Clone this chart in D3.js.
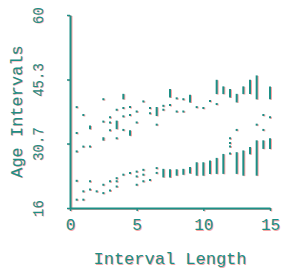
<!doctype html>
<html lang="en">
<head>
  <meta charset="utf-8">
  <title>Age Intervals</title>
  <style>
  body { margin: 0; background: #fff; }
  svg { display: block; }
  text { font-family: "Liberation Mono", "DejaVu Sans Mono", monospace; }
  </style>
</head>
<body>
  <div id="chart"></div>
  <script src="https://cdn.jsdelivr.net/npm/d3@7"></script>
  <script>
    // x positions, low and high age of each interval mark
    var upperMarks = [
      [0.5, 39.0, 39.0], [0.5, 33.1, 33.1], [0.5, 28.9, 28.9],
      [1, 37.2, 37.2], [1, 30.0, 30.0],
      [1.5, 34.2, 34.6], [1.5, 30.0, 30.0],
      [2.5, 40.8, 40.8], [2.5, 35.7, 35.7], [2.5, 31.6, 31.9],
      [3, 36.7, 36.7], [3, 35.5, 35.5], [3, 33.7, 33.7],
      [3.5, 38.4, 38.4], [3.5, 34.2, 35.7], [3.5, 31.9, 31.9],
      [4, 41.0, 41.8], [4, 38.8, 38.8], [4, 36.9, 36.9], [4, 33.8, 33.8],
      [4.5, 39.0, 39.0], [4.5, 37.2, 37.2], [4.5, 32.7, 33.5],
      [5, 38.0, 38.0], [5, 35.5, 35.5],
      [5.5, 40.3, 40.3],
      [6, 38.8, 38.8], [6, 37.6, 37.6],
      [6.5, 37.2, 38.8], [6.5, 35.0, 35.0],
      [7, 39.3, 39.3], [7, 38.4, 38.4],
      [7.5, 41.4, 42.9], [7.5, 39.5, 39.5],
      [8, 41.0, 41.0], [8, 38.0, 38.0],
      [8.5, 40.8, 40.8], [8.5, 38.0, 38.0],
      [9, 40.3, 41.6],
      [9.5, 39.0, 39.0],
      [10, 38.8, 38.8],
      [10.5, 40.4, 40.4],
      [11, 42.2, 45.0], [11, 39.7, 39.7],
      [11.5, 42.2, 43.5],
      [12, 41.4, 42.9], [12, 31.9, 31.9], [12, 30.8, 30.8], [12, 30.0, 30.0],
      [12.5, 40.3, 41.8], [12.5, 33.8, 33.8],
      [13, 42.2, 43.5],
      [13.5, 42.2, 45.0],
      [14, 41.0, 46.0], [14, 35.0, 35.0],
      [14.5, 37.2, 37.2], [14.5, 33.8, 33.8],
      [15, 41.0, 43.5], [15, 36.7, 36.7]
    ];
    var lowerMarks = [
      [0.5, 22.2, 22.2], [0.5, 17.9, 17.9],
      [1, 19.8, 19.8], [1, 17.9, 17.9],
      [1.5, 22.1, 22.1], [1.5, 20.2, 20.2],
      [2, 19.8, 19.8],
      [2.5, 21.3, 21.3], [2.5, 19.4, 19.4],
      [3, 22.1, 22.1], [3, 20.0, 20.0],
      [3.5, 22.8, 22.8], [3.5, 22.1, 22.1], [3.5, 20.9, 20.9],
      [4, 23.6, 23.6],
      [4.5, 24.0, 24.0],
      [5, 24.3, 24.3], [5, 23.2, 23.2], [5, 21.3, 21.3],
      [5.5, 24.7, 24.7], [5.5, 23.6, 23.6], [5.5, 22.1, 22.1],
      [6, 22.4, 22.4],
      [6.5, 25.1, 25.1], [6.5, 24.0, 24.0],
      [7, 23.2, 24.7],
      [7.5, 23.2, 24.6],
      [8, 23.6, 24.6],
      [8.5, 23.8, 24.7],
      [9, 24.1, 25.1],
      [9.5, 23.6, 26.2],
      [10, 23.6, 26.2],
      [10.5, 24.0, 26.6],
      [11, 24.0, 27.2],
      [11.5, 24.0, 28.1],
      [12, 28.4, 28.4],
      [12.5, 24.0, 28.5],
      [13, 23.6, 28.9],
      [13.5, 28.5, 29.7],
      [14, 23.6, 31.2],
      [14.5, 29.7, 31.2],
      [15, 29.7, 31.7]
    ];
    var xTicks = [0, 5, 10, 15];
    var yTicks = [16, 30.7, 45.3, 60];
    var yTickLabels = ["16", "30.7", "45.3", "60"];

    var width = 282, height = 272;

    var x = d3.scaleLinear().domain([0, 15]).range([70, 270]);
    var y = d3.scaleLinear().domain([16, 60]).range([208, 15]);

    var svg = d3.select("#chart").append("svg")
        .attr("width", width)
        .attr("height", height);

    // draw everything twice: a pale red copy shifted right, then the teal one
    var drawLayer = function(color, dx, dy) {
      var g = svg.append("g").attr("transform", "translate(" + dx + "," + dy + ")");

      var xAxis = g.append("g")
          .attr("transform", "translate(0," + y(16) + ")")
          .call(d3.axisBottom(x).tickValues(xTicks).tickSize(3).tickSizeOuter(0).tickPadding(8));
      var yAxis = g.append("g")
          .attr("transform", "translate(" + x(0) + ",0)")
          .call(d3.axisLeft(y).tickValues(yTicks).tickSize(3).tickSizeOuter(0)
                .tickFormat(function(d, i) { return yTickLabels[i]; }));

      [xAxis, yAxis].forEach(function(a) {
        a.select(".domain").attr("stroke", color).attr("stroke-width", 2);
        a.selectAll(".tick line").attr("stroke", color).attr("stroke-width", 1.5);
        a.selectAll("text").attr("fill", color);
      });
      xAxis.selectAll("text").style("font-size", "16px");
      yAxis.selectAll("text")
          .style("font-size", "14px")
          .attr("x", null).attr("dy", null)
          .attr("text-anchor", "middle")
          .attr("transform", "translate(-27,0) rotate(-90)");

      g.append("text")
          .attr("x", (x(0) + x(15)) / 2)
          .attr("y", 264)
          .attr("text-anchor", "middle")
          .attr("fill", color)
          .style("font-size", "17px")
          .text("Interval Length");
      g.append("text")
          .attr("transform", "translate(22," + (y(16) + y(60)) / 2 + ") rotate(-90)")
          .attr("text-anchor", "middle")
          .attr("fill", color)
          .style("font-size", "17px")
          .text("Age Intervals");

      g.append("g").selectAll("line")
          .data(upperMarks.concat(lowerMarks))
          .enter().append("line")
          .attr("x1", function(d) { return x(d[0]); })
          .attr("x2", function(d) { return x(d[0]); })
          .attr("y1", function(d) { return y(d[2]) - 1; })
          .attr("y2", function(d) { return y(d[1]) + 1; })
          .attr("stroke", color)
          .attr("stroke-width", 2);
    };

    drawLayer("#f6a5a5", 1, 0.5);
    drawLayer("#1c8f86", 0, 0);
  </script>
</body>
</html>
